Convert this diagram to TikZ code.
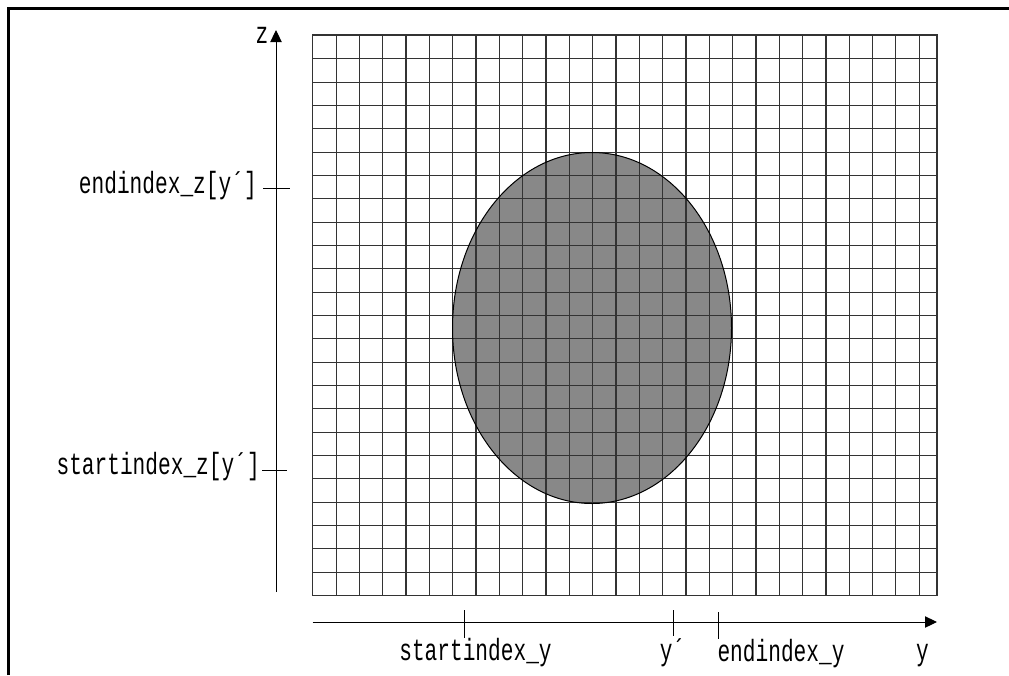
\documentclass[tikz,border=0pt]{standalone}
\usepackage{fontspec}
\usetikzlibrary{arrows.meta}
\newfontfamily\lblfont[FakeStretch=0.69]{Liberation Mono}
\definecolor{blobgray}{RGB}{136,136,136}
\begin{document}
\begin{tikzpicture}[
    x=0.75pt, y=-0.75pt,
    % one unit = one pixel of the 1009x675 sheet, y runs downwards
    frame/.style={line width=2.25pt, draw=black},
    cell/.style={line width=0.8pt, draw=black!80},
    axis/.style={-{Triangle[length=9pt, width=8.5pt]}, line width=0.75pt, draw=black},
    tick/.style={line width=0.75pt, draw=black},
    lbl/.style={font=\lblfont\fontsize{23pt}{25pt}\selectfont, inner sep=0pt, text=black},
    blob/.style={fill=blobgray},
    blobline/.style={draw=black, line width=0.75pt}
  ]

  \useasboundingbox (0,0) rectangle (1009,675);

  % ---------------------------------------------------------
  % OUTER FRAME (only top and left edges are on the sheet)
  % ---------------------------------------------------------
  \draw[frame] (8.5,675) -- (8.5,7);
  \draw[frame] (7,8.5) -- (1009,8.5);

  % ---------------------------------------------------------
  % DISC UNDER THE GRID
  % ---------------------------------------------------------
  \fill[blob] (592,328) ellipse [x radius=139.5, y radius=175.5];

  % ---------------------------------------------------------
  % GRID (cells of 23.33px, one narrow column right, one tall row top)
  % ---------------------------------------------------------
  \foreach \i in {0,...,26}
    \draw[cell] (312.7+\i*23.33,34) -- (312.7+\i*23.33,595.5);
  \draw[cell] (937,34) -- (937,595.5);
  \foreach \j in {0,...,23}
    \draw[cell] (312.7,595.5-\j*23.33) -- (937,595.5-\j*23.33);
  \draw[cell, line width=1.5pt] (312.7,34.5) -- (937,34.5);

  \draw[blobline] (592,328) ellipse [x radius=139.5, y radius=175.5];

  % ---------------------------------------------------------
  % Z AXIS WITH ITS TWO MARKS
  % ---------------------------------------------------------
  \coordinate (zfoot) at (276,592);
  \coordinate (ztip) at (276,30);
  \draw[axis] (zfoot) -- (ztip);
  \node[lbl, anchor=base] (zname) at (262,43) {z};

  \coordinate (ezl) at (263,188);
  \coordinate (ezr) at (290,188);
  \draw[tick] (ezl) -- (ezr);
  \node[lbl, anchor=base east] (endz) at (257,193) {endindex\_z[y´]};

  \coordinate (szl) at (262,470);
  \coordinate (szr) at (287,470);
  \draw[tick] (szl) -- (szr);
  \node[lbl, anchor=base east] (startz) at (260,474) {startindex\_z[y´]};

  % ---------------------------------------------------------
  % Y AXIS WITH ITS THREE MARKS
  % ---------------------------------------------------------
  \coordinate (yfoot) at (312.5,622);
  \coordinate (ytip) at (937,622);
  \draw[axis] (yfoot) -- (ytip);
  \node[lbl, anchor=base] (yname) at (922.5,660) {y};

  \coordinate (syt) at (464.3,610);
  \coordinate (syb) at (464.3,638);
  \draw[tick] (syt) -- (syb);
  \node[lbl, anchor=base] (starty) at (475.5,660) {startindex\_y};

  \coordinate (ypt) at (673.5,610);
  \coordinate (ypb) at (673.5,636);
  \draw[tick] (ypt) -- (ypb);
  \node[lbl, anchor=base] (yprime) at (672.5,660) {y´};

  \coordinate (eyt) at (718.3,612);
  \coordinate (eyb) at (718.3,639);
  \draw[tick] (eyt) -- (eyb);
  \node[lbl, anchor=base] (endy) at (781,661) {endindex\_y};

\end{tikzpicture}
\end{document}
